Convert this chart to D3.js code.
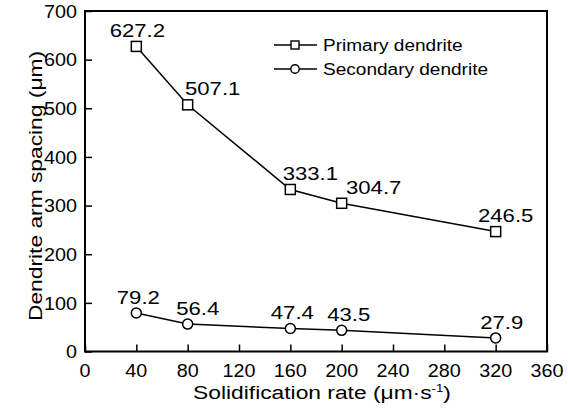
<!DOCTYPE html>
<html>
<head>
<meta charset="utf-8">
<script src="https://cdn.jsdelivr.net/npm/d3@7"></script>
<style>
  html, body { margin: 0; padding: 0; background: #fff; }
  svg { display: block; }
  text { font-family: "Liberation Sans", Arial, sans-serif; fill: #000; }
</style>
</head>
<body>
<svg id="chart" width="568" height="419"></svg>
<script>
// Solidification rates (µm/s)
const rates = [40, 80, 160, 200, 320];
// Dendrite arm spacing (µm)
const primary = [627.2, 507.1, 333.1, 304.7, 246.5];
const secondary = [79.2, 56.4, 47.4, 43.5, 27.9];
// Axis ticks
const xTicks = [0, 40, 80, 120, 160, 200, 240, 280, 320, 360];
const yTicks = [0, 100, 200, 300, 400, 500, 600, 700];
const seriesNames = ["Primary dendrite", "Secondary dendrite"];

// horizontal nudges of the value labels relative to their markers
const primaryLabelDx = [1, 25, 20, 32, 10];
const secondaryLabelDx = [2, 10, 2, 7, 6];

const svg = d3.select("#chart");
const plotLeft = 85, plotRight = 547, plotTop = 11, plotBottom = 351.5;

const x = d3.scaleLinear().domain([0, 360]).range([plotLeft, plotRight]);
const y = d3.scaleLinear().domain([0, 700]).range([plotBottom, plotTop]);

// text drawn with a horizontal stretch
function label(parent, px, py, str, size, sx, anchor, rotate) {
  const g = parent.append("g")
    .attr("transform", `translate(${px},${py})` + (rotate ? ` rotate(${rotate})` : "") + ` scale(${sx},1)`);
  return g.append("text")
    .attr("font-size", size)
    .attr("text-anchor", anchor)
    .text(str);
}

// ticks (pointing inward)
const xAxis = d3.axisBottom(x).tickValues(xTicks).tickSizeInner(-7).tickSizeOuter(0).tickFormat("");
const yAxis = d3.axisLeft(y).tickValues(yTicks).tickSizeInner(-7).tickSizeOuter(0).tickFormat("");
svg.append("g").attr("transform", `translate(0,${plotBottom})`).call(xAxis)
  .call(g => g.select(".domain").remove())
  .call(g => g.selectAll("line").attr("stroke", "#000").attr("stroke-width", 1.5));
svg.append("g").attr("transform", `translate(${plotLeft},0)`).call(yAxis)
  .call(g => g.select(".domain").remove())
  .call(g => g.selectAll("line").attr("stroke", "#000").attr("stroke-width", 1.5));

// tick labels
const tickLayer = svg.append("g");
xTicks.forEach(v => label(tickLayer, x(v), 377, String(v), 19, 1.04, "middle"));
yTicks.forEach(v => label(tickLayer, plotLeft - 8, y(v) + 6.8, String(v), 19, 1.04, "end"));

// frame
svg.append("rect")
  .attr("x", plotLeft).attr("y", plotTop)
  .attr("width", plotRight - plotLeft).attr("height", plotBottom - plotTop)
  .attr("fill", "none").attr("stroke", "#000").attr("stroke-width", 2);

// axis titles
const xt = label(svg, (plotLeft + plotRight) / 2 + 6, 399, "", 19, 1.2, "middle");
xt.append("tspan").text("Solidification rate (μm·s");
xt.append("tspan").attr("font-size", 11).attr("dy", -7).text("-1");
xt.append("tspan").attr("dy", 7).text(")");
label(svg, 41.5, 186, "Dendrite arm spacing (μm)", 19, 1.2, "middle", -90);

// series
const line = d3.line().x((d, i) => x(rates[i])).y(d => y(d));
const lines = svg.append("g");
[primary, secondary].forEach(vals => {
  lines.append("path").datum(vals)
    .attr("d", line)
    .attr("fill", "none").attr("stroke", "#000").attr("stroke-width", 1.5);
});

const marks = svg.append("g");
marks.selectAll("rect.p").data(primary).join("rect")
  .attr("class", "p")
  .attr("x", (d, i) => x(rates[i]) - 5).attr("y", d => y(d) - 5)
  .attr("width", 10).attr("height", 10)
  .attr("fill", "#fff").attr("stroke", "#000").attr("stroke-width", 1.5);
marks.selectAll("circle.s").data(secondary).join("circle")
  .attr("class", "s")
  .attr("cx", (d, i) => x(rates[i])).attr("cy", d => y(d)).attr("r", 5)
  .attr("fill", "#fff").attr("stroke", "#000").attr("stroke-width", 1.5);

// value labels
const valLayer = svg.append("g");
primary.forEach((v, i) => label(valLayer, x(rates[i]) + primaryLabelDx[i], y(v) - 9.5, v.toFixed(1), 18, 1.23, "middle"));
secondary.forEach((v, i) => label(valLayer, x(rates[i]) + secondaryLabelDx[i], y(v) - 9, v.toFixed(1), 18, 1.23, "middle"));

// legend
const legend = svg.append("g");
const rowY = [45, 69];
seriesNames.forEach((name, i) => {
  legend.append("line")
    .attr("x1", 274).attr("x2", 317).attr("y1", rowY[i]).attr("y2", rowY[i])
    .attr("stroke", "#000").attr("stroke-width", 1.4);
  if (i === 0) {
    legend.append("rect").attr("x", 291).attr("y", rowY[i] - 4).attr("width", 8).attr("height", 8)
      .attr("fill", "#fff").attr("stroke", "#000").attr("stroke-width", 1.4);
  } else {
    legend.append("circle").attr("cx", 295).attr("cy", rowY[i]).attr("r", 4.2)
      .attr("fill", "#fff").attr("stroke", "#000").attr("stroke-width", 1.4);
  }
  label(legend, 323, rowY[i] + 5.8, name, 16, 1.19, "start");
});
</script>
</body>
</html>
